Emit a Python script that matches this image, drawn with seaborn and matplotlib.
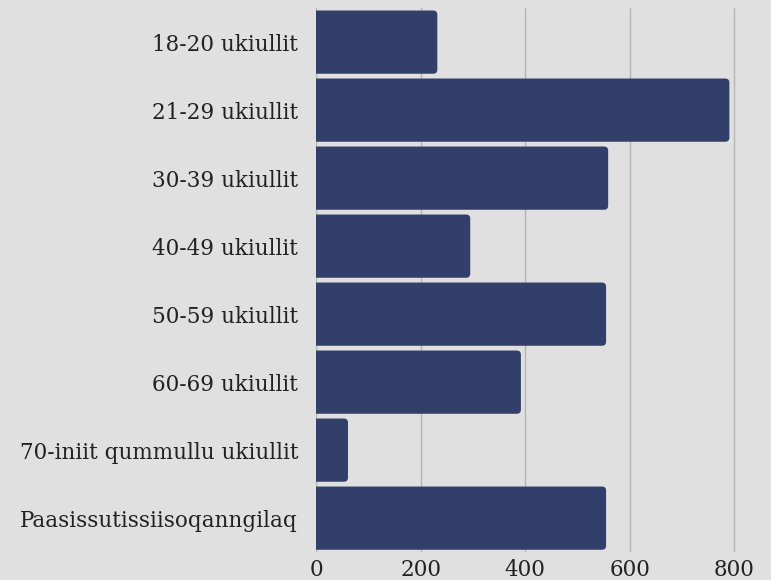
import seaborn as sns
import matplotlib.pyplot as plt
import pandas as pd
from matplotlib.patches import FancyBboxPatch

# age groups and counts
age_groups = ['18-20 ukiullit', '21-29 ukiullit', '30-39 ukiullit', '40-49 ukiullit',
              '50-59 ukiullit', '60-69 ukiullit', '70-iniit qummullu ukiullit',
              'Paasissutissiisoqanngilaq']
counts = [232, 791, 559, 295, 555, 392, 61, 555]
x_ticks = [0, 200, 400, 600, 800]

bg = '#e0e0e0'
bar_color = '#323f6b'

sns.set_theme(style='white')
plt.rcParams['font.family'] = ['DejaVu Serif']

df = pd.DataFrame({'group': age_groups, 'count': counts})

fig = plt.figure(figsize=(7.71, 5.8), dpi=100, facecolor=bg)
ax = fig.add_axes([0.41, 0.048, 0.576, 0.938])
ax.set_facecolor(bg)

sns.barplot(data=df, x='count', y='group', orient='h', color=bar_color,
            width=0.93, saturation=1, ax=ax, zorder=3)

# swap the plain bars for slightly rounded ones
for p in list(ax.patches):
    x0, y0 = p.get_x(), p.get_y()
    w, h = p.get_width(), p.get_height()
    p.remove()
    ax.add_patch(FancyBboxPatch((x0 - 20, y0), w + 20, h,
                                boxstyle='round,pad=0,rounding_size=8',
                                mutation_aspect=0.0075,
                                facecolor=bar_color, edgecolor='none', zorder=3))

ax.set_xlim(0, 850)
ax.set_xticks(x_ticks)
ax.xaxis.grid(True, color='#b5b5b5', linewidth=1, zorder=0)
ax.yaxis.grid(False)
for s in ax.spines.values():
    s.set_visible(False)

ax.set_xlabel('')
ax.set_ylabel('')
ax.tick_params(axis='y', length=0, pad=13, labelsize=15.5, labelcolor='#222222')
ax.tick_params(axis='x', length=0, pad=5, labelsize=15.5, labelcolor='#222222')

plt.savefig('out.png', dpi=100, facecolor=bg)
